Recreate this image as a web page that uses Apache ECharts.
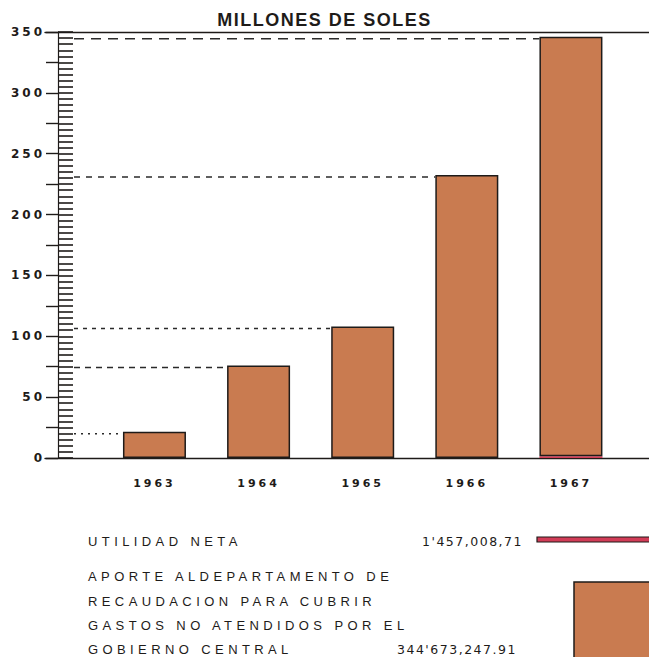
<!DOCTYPE html>
<html>
<head>
<meta charset="utf-8">
<script src="https://cdn.jsdelivr.net/npm/echarts@6/dist/echarts.min.js"></script>
<style>
  html, body { margin: 0; padding: 0; background: #fff; }
  #chart { width: 649px; height: 657px; }
  /* spaced-out lettering like the hand stencil in the scan */
  #chart text[style*="18px"] { letter-spacing: 1.5px; }
  #chart text[style*="12px"] { letter-spacing: 3px; }
  #chart text[style*="11px"] { letter-spacing: 3px; }
  #chart text[style*="13px"] { letter-spacing: 4.4px; }
  #chart text[style*="12.5px"] { letter-spacing: 1.5px; }
</style>
</head>
<body>
<div id="chart"></div>
<script>
// data (millions of soles)
const years = ["1963", "1964", "1965", "1966", "1967"];
const aporte = [21.6, 76, 108, 232.5, 344.67];
const utilidad = [0, 0, 0, 0, 1.46];
const yMax = 350;
const legendNames = ["UTILIDAD NETA", "APORTE ALDEPARTAMENTO DE", "RECAUDACION PARA CUBRIR", "GASTOS NO ATENDIDOS POR EL", "GOBIERNO CENTRAL"];
const legendValues = ["1'457,008,71", "344'673,247.91"];

const AXIS_X = 58;
const BAR_W = 63;
const BROWN = "#c97b50";
const RED = "#d23c57";
const INK = "#1e1b19";
const dashes = [[2, 5], [6, 5], [4, 5], [6, 6], [10, 7]];

const chart = echarts.init(document.getElementById("chart"), null, { renderer: "svg" });

const totals = years.map((y, i) => [i, aporte[i] + utilidad[i]]);

const option = {
  animation: false,
  title: {
    text: "MILLONES DE SOLES",
    left: "center",
    top: 6,
    textStyle: { fontFamily: "Liberation Sans", fontSize: 18, fontWeight: "bold", color: INK }
  },
  grid: [
    { left: 45, right: 0, top: 32, bottom: 199 },       // frame lines
    { left: AXIS_X, right: 0, top: 32, bottom: 199 },   // y scale
    { left: 102.4, right: 26, top: 32, bottom: 199 }    // bars
  ],
  xAxis: [
    { gridIndex: 0, type: "value", min: 0, max: 1, position: "bottom",
      axisLine: { show: true, lineStyle: { color: INK, width: 1.4 } },
      axisTick: { show: false }, axisLabel: { show: false }, splitLine: { show: false } },
    { gridIndex: 0, type: "value", min: 0, max: 1, position: "top",
      axisLine: { show: true, lineStyle: { color: INK, width: 1.4 } },
      axisTick: { show: false }, axisLabel: { show: false }, splitLine: { show: false } },
    { gridIndex: 1, type: "value", min: 0, max: 1, show: false },
    { gridIndex: 2, type: "category", data: years,
      axisLine: { show: false }, axisTick: { show: false }, splitLine: { show: false },
      axisLabel: { margin: 20, color: INK, fontFamily: "DejaVu Sans", fontSize: 11, fontWeight: "bold" } }
  ],
  yAxis: [
    { gridIndex: 0, type: "value", min: 0, max: yMax, show: false },
    { gridIndex: 1, type: "value", min: 0, max: yMax, interval: 25, position: "left",
      axisLine: { show: false },
      axisTick: { show: true, inside: false, length: 12, lineStyle: { color: INK, width: 1.4 } },
      axisLabel: { margin: 13, color: INK, fontFamily: "DejaVu Sans", fontSize: 12, fontWeight: "bold",
                   formatter: v => (v % 50 === 0 ? String(v) : "") },
      splitLine: { show: false } },
    { gridIndex: 1, type: "value", min: 0, max: yMax, interval: 50, position: "left",
      axisLine: { show: true, lineStyle: { color: INK, width: 1.2 } },
      axisTick: { show: true, inside: true, length: 15, lineStyle: { color: INK, width: 1.6 } },
      minorTick: { show: true, splitNumber: 10, length: 15, lineStyle: { color: INK, width: 1.6 } },
      axisLabel: { show: false }, splitLine: { show: false } },
    { gridIndex: 2, type: "value", min: 0, max: yMax, show: false }
  ],
  series: [
    {
      name: "Utilidad neta", type: "bar", stack: "total", xAxisIndex: 3, yAxisIndex: 3,
      barWidth: BAR_W, data: utilidad,
      itemStyle: { color: RED, borderWidth: 0 }
    },
    {
      name: "Aporte", type: "bar", stack: "total", xAxisIndex: 3, yAxisIndex: 3,
      barWidth: BAR_W, data: aporte,
      itemStyle: { color: BROWN, borderColor: INK, borderWidth: 1.5 }
    },
    {
      // leader lines from the scale to each bar top
      type: "custom", xAxisIndex: 3, yAxisIndex: 3, data: totals, z: 1, silent: true,
      renderItem: (params, api) => {
        const i = api.value(0);
        const p = api.coord([i, api.value(1)]);
        return {
          type: "line",
          shape: { x1: AXIS_X + 16, y1: p[1] + 2, x2: p[0] - BAR_W / 2, y2: p[1] + 2 },
          style: { stroke: "#2a2a2a", lineWidth: 1.4, lineDash: dashes[i] }
        };
      }
    }
  ],
  graphic: [
    { type: "text", left: 88, top: 535, style: { text: legendNames[0], font: "13px Liberation Sans", fill: INK } },
    { type: "text", left: 422, top: 535, style: { text: legendValues[0], font: "12.5px DejaVu Sans", fill: INK } },
    { type: "rect", shape: { x: 537, y: 537, width: 115, height: 5 },
      style: { fill: RED, stroke: INK, lineWidth: 1.2 } },
    { type: "text", left: 88, top: 570, style: { text: legendNames[1], font: "13px Liberation Sans", fill: INK } },
    { type: "text", left: 88, top: 595, style: { text: legendNames[2], font: "13px Liberation Sans", fill: INK } },
    { type: "text", left: 88, top: 619, style: { text: legendNames[3], font: "13px Liberation Sans", fill: INK } },
    { type: "text", left: 88, top: 643, style: { text: legendNames[4], font: "13px Liberation Sans", fill: INK } },
    { type: "text", left: 397, top: 643, style: { text: legendValues[1], font: "12.5px DejaVu Sans", fill: INK } },
    { type: "rect", shape: { x: 574, y: 582, width: 80, height: 80 },
      style: { fill: BROWN, stroke: INK, lineWidth: 1.5 } }
  ]
};

chart.setOption(option);
</script>
</body>
</html>
